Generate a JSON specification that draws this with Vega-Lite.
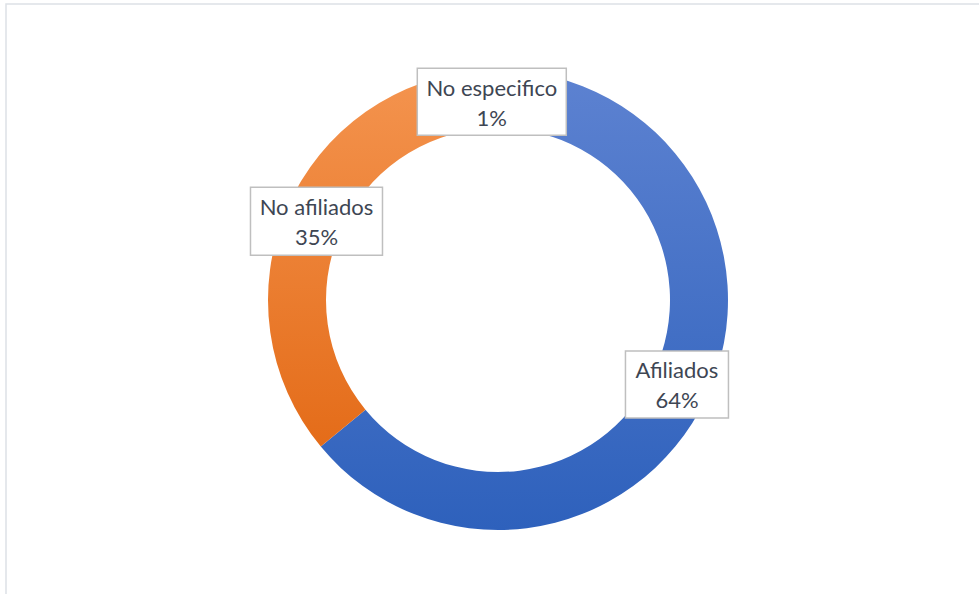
{
  "$schema": "https://vega.github.io/schema/vega-lite/v6.json",
  "width": 984,
  "height": 592,
  "padding": {"left": 6, "top": 4, "right": 0, "bottom": 0},
  "background": "white",
  "config": {"view": {"stroke": "#DDE1E6", "strokeWidth": 1.5}},
  "data": {
    "values": [
      {"categoria": "Afiliados", "valor": 64, "orden": 1, "etiqueta": "Afiliados", "pct": "64%"},
      {"categoria": "No afiliados", "valor": 35, "orden": 2, "etiqueta": "No afiliados", "pct": "35%"},
      {"categoria": "No especifico", "valor": 1, "orden": 3, "etiqueta": "No especifico", "pct": "1%"}
    ]
  },
  "transform": [
    {"stack": "valor", "groupby": [], "as": ["ini", "fin"], "sort": [{"field": "orden", "order": "ascending"}]},
    {"calculate": "(datum.ini + datum.fin) / 2 * 2 * PI / 100", "as": "angulo"},
    {"calculate": "201 * sin(datum.angulo)", "as": "px"},
    {"calculate": "201 * cos(datum.angulo)", "as": "py"},
    {"calculate": "[datum.etiqueta, datum.pct]", "as": "texto"}
  ],
  "layer": [
    {
      "transform": [{"filter": "datum.categoria == 'Afiliados'"}],
      "mark": {
        "type": "arc", "radius": 230, "radius2": 172,
        "color": {"gradient": "linear", "x1": 0, "y1": 0, "x2": 0, "y2": 1,
          "stops": [{"offset": 0, "color": "#5D82D1"}, {"offset": 1, "color": "#2E61BC"}]}
      },
      "encoding": {
        "theta": {"field": "ini", "type": "quantitative", "scale": {"domain": [0, 100]}},
        "theta2": {"field": "fin"}
      }
    },
    {
      "transform": [{"filter": "datum.categoria == 'No afiliados'"}],
      "mark": {
        "type": "arc", "radius": 230, "radius2": 172,
        "color": {"gradient": "linear", "x1": 0, "y1": 0, "x2": 0, "y2": 1,
          "stops": [{"offset": 0, "color": "#F4944F"}, {"offset": 1, "color": "#E46C19"}]}
      },
      "encoding": {
        "theta": {"field": "ini", "type": "quantitative", "scale": {"domain": [0, 100]}},
        "theta2": {"field": "fin"}
      }
    },
    {
      "transform": [{"filter": "datum.categoria == 'No especifico'"}],
      "mark": {"type": "arc", "radius": 230, "radius2": 172, "color": "#A5A5A5"},
      "encoding": {
        "theta": {"field": "ini", "type": "quantitative", "scale": {"domain": [0, 100]}},
        "theta2": {"field": "fin"}
      }
    },
    {
      "mark": {"type": "point", "filled": true, "fill": "white", "stroke": "#BFBFBF", "strokeWidth": 1.5, "opacity": 1, "size": 40000},
      "encoding": {
        "x": {"field": "px", "type": "quantitative", "scale": {"domain": [-492, 492]}, "axis": null},
        "y": {"field": "py", "type": "quantitative", "scale": {"domain": [-296, 296]}, "axis": null},
        "shape": {"field": "categoria", "type": "nominal", "legend": null,
          "scale": {"domain": ["Afiliados", "No afiliados", "No especifico"],
            "range": ["M-0.515,-0.335H0.515V0.335H-0.515Z", "M-0.66,-0.34H0.66V0.34H-0.66Z", "M-0.745,-0.335H0.745V0.335H-0.745Z"]}}
      }
    },
    {
      "mark": {"type": "text", "font": "Lato", "fontSize": 22, "lineHeight": 30, "color": "#3E4653", "align": "center", "baseline": "middle", "dy": -13},
      "encoding": {
        "x": {"field": "px", "type": "quantitative"},
        "y": {"field": "py", "type": "quantitative"},
        "text": {"field": "texto"}
      }
    }
  ]
}
